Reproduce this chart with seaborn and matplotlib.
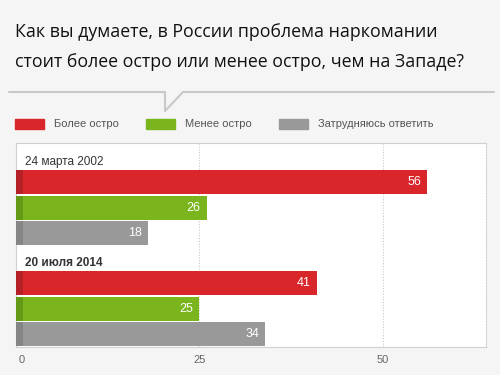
import seaborn as sns
import matplotlib.pyplot as plt
import matplotlib.transforms as mtransforms
from matplotlib.patches import Rectangle
from matplotlib.lines import Line2D
import pandas as pd

# Data
answers = ['Более остро', 'Менее остро', 'Затрудняюсь ответить']
surveys = ['24 марта 2002', '20 июля 2014']
values_2002 = [56, 26, 18]
values_2014 = [41, 25, 34]

colors = ['#d9262b', '#7ab51d', '#999999']
dark_colors = ['#b52026', '#629a17', '#858585']

rows = []
for g, vals in enumerate([values_2002, values_2014]):
    for c, v in enumerate(vals):
        rows.append({'Survey': surveys[g], 'Answer': answers[c], 'Value': v, 'pos': g * 4 + c})
df = pd.DataFrame(rows)

sns.set_style('white')
plt.rcParams['font.family'] = ['Liberation Sans', 'DejaVu Sans']

fig = plt.figure(figsize=(5, 3.75), dpi=100)
fig.patch.set_facecolor('#f5f5f5')
ax = fig.add_axes([0.031, 0.076, 0.941, 0.5427])
ax.set_facecolor('white')

sns.barplot(data=df, x='Value', y='pos', hue='Answer', palette=colors, hue_order=answers,
            orient='h', native_scale=True, dodge=False, width=0.96, legend=False,
            saturation=1, ax=ax, edgecolor='none')

# darker stripe at the start of every bar
ax.barh(df['pos'], 1.0, height=0.96, color=[dark_colors[answers.index(a)] for a in df['Answer']],
        linewidth=0, edgecolor='none', zorder=3)

# value labels inside the bar ends
shift = mtransforms.offset_copy(ax.transData, fig=fig, x=-6, y=0, units='dots')
for _, r in df.iterrows():
    ax.text(r['Value'], r['pos'], str(r['Value']), transform=shift, ha='right', va='center',
            color='white', fontsize=9, zorder=4)

# survey headers
for g, s in enumerate(surveys):
    ax.text(1.3, g * 4 - 0.8, s, ha='left', va='center', fontsize=8.5, color='#333333',
            fontweight='bold' if g == 1 else 'normal')

ax.set_xlim(0, 64)
ax.set_ylim(6.5, -1.56)
ax.set_xticks([0, 25, 50])
ax.set_xticklabels(['0', '25', '50'])
ax.tick_params(axis='x', length=0, pad=6, labelsize=8, labelcolor='#666666')
ax.get_xticklabels()[0].set_transform(ax.get_xticklabels()[0].get_transform() +
                                      mtransforms.ScaledTranslation(6 / 100, 0, fig.dpi_scale_trans))
ax.set_yticks([])
ax.set_xlabel('')
ax.set_ylabel('')
for x in [25, 50]:
    ax.axvline(x, color='#c8c8c8', linestyle=(0, (1, 1.5)), linewidth=0.8, zorder=0)
for sp in ax.spines.values():
    sp.set_color('#d0d0d0')
    sp.set_linewidth(0.8)
ax.spines['right'].set_linestyle((0, (1, 1.5)))

# title
fig.text(15 / 500, 1 - 32 / 375, 'Как вы думаете, в России проблема наркомании', fontsize=12.8,
         color='#111111', va='center', ha='left', family=['Open Sans', 'DejaVu Sans'])
fig.text(15 / 500, 1 - 62 / 375, 'стоит более остро или менее остро, чем на Западе?', fontsize=12.8,
         color='#111111', va='center', ha='left', family=['Open Sans', 'DejaVu Sans'])

# separator with speech-bubble notch
px = [9, 165, 165, 183, 494]
py = [92, 92, 111, 92, 92]
fig.add_artist(Line2D([p / 500 for p in px], [1 - p / 375 for p in py], color='#c8c8c8',
                      linewidth=1.5, transform=fig.transFigure))

# legend
leg_x = [15, 146, 279]
for i, a in enumerate(answers):
    fig.add_artist(Rectangle((leg_x[i] / 500, 1 - 129 / 375), 29 / 500, 10 / 375,
                             color=colors[i], transform=fig.transFigure))
    fig.text((leg_x[i] + 39) / 500, 1 - 124 / 375, a, fontsize=8, color='#555555',
             va='center', ha='left')

fig.savefig('out.png', dpi=100, facecolor=fig.get_facecolor())
